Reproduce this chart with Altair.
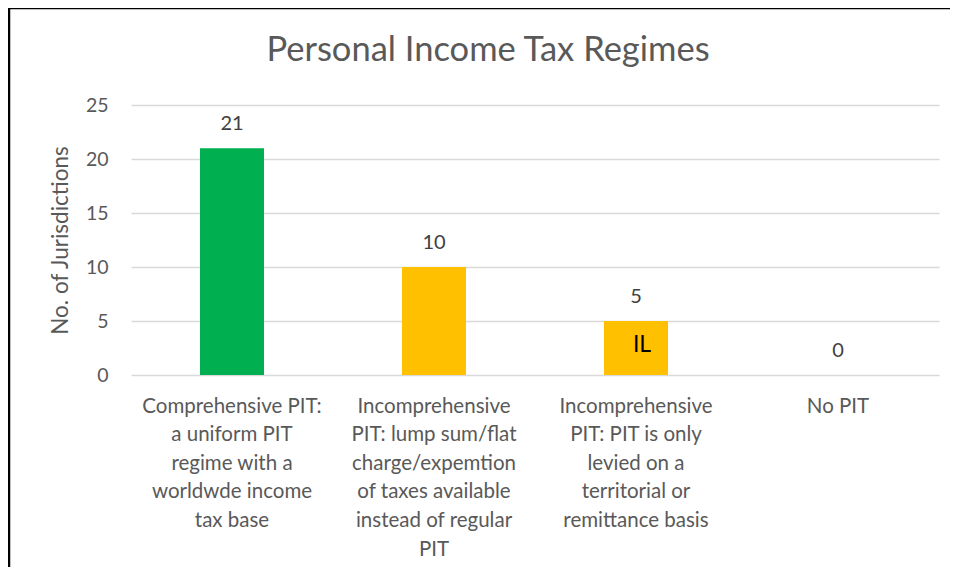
import altair as alt
import pandas as pd

categories = [
    "Comprehensive PIT:|a uniform PIT|regime with a|worldwde income|tax base",
    "Incomprehensive|PIT: lump sum/flat|charge/expemtion|of taxes available|instead of regular|PIT",
    "Incomprehensive|PIT: PIT is only|levied on a|territorial or|remittance basis",
    "No PIT",
]
values = [21, 10, 5, 0]
colors = ["#00B050", "#FFC000", "#FFC000", "#FFC000"]
inner_labels = ["", "", "IL", ""]
title_text = "Personal Income Tax Regimes"

df = pd.DataFrame({"cat": categories, "val": values, "color": colors, "inner": inner_labels})

FONT = "Lato"

x = alt.X("cat:N", sort=categories, title=None,
          scale=alt.Scale(paddingInner=0, paddingOuter=0),
          axis=alt.Axis(labelExpr="split(datum.value, '|')", labelAngle=0,
                        labelFontSize=20.5, labelColor="#595959", labelFont=FONT,
                        labelLineHeight=28.6, labelPadding=21, labelBaseline="top",
                        domain=False, ticks=False))
y = alt.Y("val:Q", title="No. of Jurisdictions",
          scale=alt.Scale(domain=[0, 25], nice=False),
          axis=alt.Axis(values=[0, 5, 10, 15, 20, 25], labelFontSize=19.5, labelColor="#595959",
                        labelFont=FONT, labelPadding=23, titleFont=FONT, titleFontSize=22.5,
                        titleFontWeight="normal", titleColor="#595959", titlePadding=13,
                        domain=False, ticks=False, gridColor="#D9D9D9", gridWidth=1.5))

base = alt.Chart(df)

bars = base.mark_bar(width=64).encode(
    x=x, y=y, color=alt.Color("color:N", scale=None)
)

labels = base.mark_text(dy=-24, fontSize=20, font=FONT, color="#404040").encode(
    x=alt.X("cat:N", sort=categories), y="val:Q", text="val:Q"
)

inner = base.mark_text(dy=-30, dx=6, fontSize=23, font=FONT, color="#000000").encode(
    x=alt.X("cat:N", sort=categories), y=alt.datum(0), text="inner:N"
)

border = alt.Chart(pd.DataFrame({"k": [0]})).mark_rect(
    fillOpacity=0, stroke="#000000", strokeWidth=2.5
).encode(x=alt.value(-122), x2=alt.value(900), y=alt.value(-97), y2=alt.value(600))

title = alt.Chart(pd.DataFrame({"t": [title_text]})).mark_text(
    fontSize=34.5, font=FONT, color="#595959", baseline="middle", align="center"
).encode(x=alt.value(357), y=alt.value(-54), text="t:N")

chart = alt.layer(border, title, bars, labels, inner).properties(
    width=808, height=270,
    autosize=alt.AutoSizeParams(type="none"),
    padding={"left": 123, "top": 97, "right": 11, "bottom": 192},
).configure_view(stroke=None)

chart.save("out.html", embed_options={"renderer": "svg", "actions": False})
